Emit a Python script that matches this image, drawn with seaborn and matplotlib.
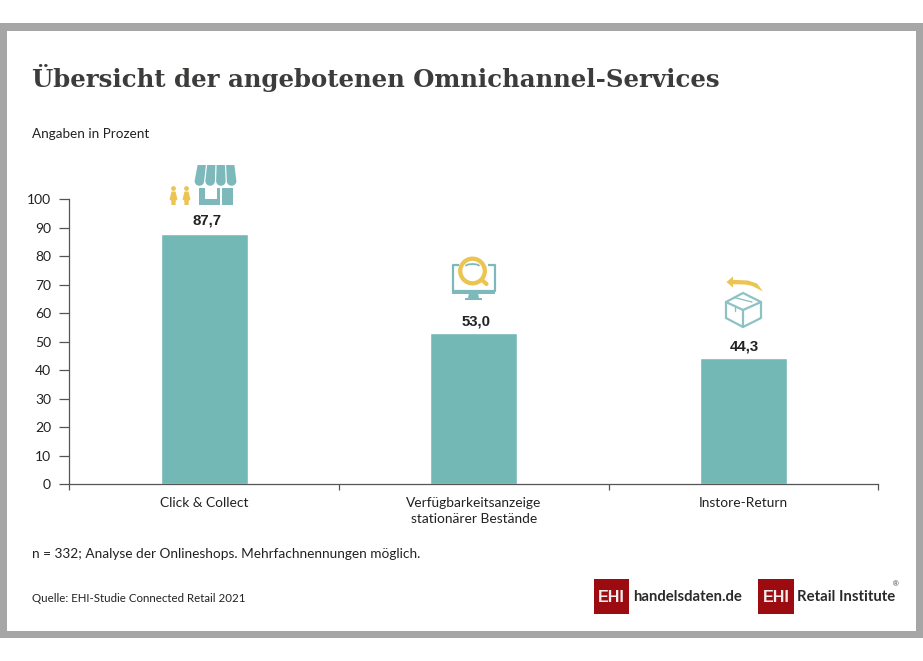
import matplotlib
matplotlib.use("Agg")
import matplotlib.pyplot as plt
from matplotlib.patches import Rectangle, Circle, Polygon, Wedge
import seaborn as sns
import pandas as pd

categories = ["Click & Collect", "Verfügbarkeitsanzeige\nstationärer Bestände", "Instore-Return"]
values = [87.7, 53.0, 44.3]
y_ticks = [0, 10, 20, 30, 40, 50, 60, 70, 80, 90, 100]
title = "Übersicht der angebotenen Omnichannel-Services"
subtitle = "Angaben in Prozent"
note = "n = 332; Analyse der Onlineshops. Mehrfachnennungen möglich."
source = "Quelle: EHI-Studie Connected Retail 2021"

TEAL = "#74B8B6"
ICON = "#7DB9BA"
YEL = "#EBC452"
DARK = "#3C3C3B"
RED = "#9B0B10"
GREY = "#A6A6A6"
BODY = "Lato"

sns.set_theme(style="white")
W, H = 923, 661
fig = plt.figure(figsize=(W / 100, H / 100), dpi=100, facecolor="white")

# pixel-based backdrop layer
bg = fig.add_axes([0, 0, 1, 1], zorder=0)
bg.set_xlim(0, W); bg.set_ylim(H, 0); bg.axis("off")
bg.add_patch(Rectangle((0, 23), W, 615, fc=GREY, lw=0))
bg.add_patch(Rectangle((7, 31), 909, 600, fc="white", lw=0))

bg.text(32, 77.5, title, family="DejaVu Serif", weight="bold", fontsize=17.6, color=DARK, va="center", ha="left")
bg.text(32, 133.5, subtitle, family=BODY, fontsize=9.75, color="#222222", va="center")
bg.text(32, 553.5, note, family=BODY, fontsize=9.85, color="#222222", va="center")
bg.text(32, 598, source, family=BODY, fontsize=8.3, color="#222222", va="center")

# main chart
df = pd.DataFrame({"cat": categories, "val": values})
ax = fig.add_axes([69.4 / W, (H - 484.4) / H, 809 / W, 285 / H], zorder=1)
ax.patch.set_visible(False)
sns.barplot(data=df, x="cat", y="val", color=TEAL, saturation=1, width=0.322, ax=ax)
ax.set_xlim(-0.5, 2.5); ax.set_ylim(0, 100)
ax.set_xlabel(""); ax.set_ylabel("")
ax.set_yticks(y_ticks)
ax.set_xticks([0.5, 1.5, 2.5, -0.5], minor=True)
ax.set_xticks([0, 1, 2], categories)
for s in ("top", "right"):
    ax.spines[s].set_visible(False)
for s in ("left", "bottom"):
    ax.spines[s].set_color("#555555"); ax.spines[s].set_linewidth(0.9)
ax.tick_params(axis="y", length=7.5, width=0.9, color="#555555", pad=5.8, labelsize=10, labelcolor="#222222", left=True)
ax.tick_params(axis="x", which="major", length=0, pad=9.2, labelsize=9.95, labelcolor="#222222")
ax.tick_params(axis="x", which="minor", length=4.5, width=0.9, color="#555555", bottom=True)
for lab in ax.get_xticklabels():
    lab.set_family(BODY); lab.set_linespacing(1.36)
for lab in ax.get_yticklabels():
    lab.set_family(BODY)
anns = ax.bar_label(ax.containers[0], labels=[f"{v:.1f}".replace(".", ",") for v in values],
                    padding=4.5, family="Liberation Sans", weight="bold", fontsize=10.8, color="#222222")
for ann, off in zip(anns, [(2.2, 4.8), (1.8, 3.4), (0.7, 3.2)]):
    ann.xyann = off

# icons (decoration, pixel coordinates)
ov = fig.add_axes([0, 0, 1, 1], zorder=2)
ov.set_xlim(0, W); ov.set_ylim(H, 0); ov.axis("off"); ov.patch.set_visible(False)

# store
edges_top = [197, 206.5, 216, 225.5, 235]
edges_bot = [194, 204.75, 215.5, 226.25, 237]
for i in range(4):
    ov.add_patch(Polygon([(edges_top[i] + .6, 165), (edges_top[i + 1] - .6, 165),
                          (edges_bot[i + 1] - .6, 181), (edges_bot[i] + .6, 181)], fc=ICON, lw=0))
    ov.add_patch(Wedge(((edges_bot[i] + edges_bot[i + 1]) / 2, 181), (edges_bot[i + 1] - edges_bot[i]) / 2 - .6,
                       0, 180, fc=ICON, lw=0))
ov.add_patch(Rectangle((198.5, 188), 6, 17, fc=ICON, lw=0))
ov.add_patch(Rectangle((204, 199), 14, 6, fc=ICON, lw=0))
ov.add_patch(Rectangle((217, 188), 3, 17, fc=ICON, lw=0))
ov.add_patch(Rectangle((222, 188), 11, 17, fc=ICON, lw=0))

# people
for cx in (173.5, 186.5):
    ov.add_patch(Circle((cx, 188.5), 2.4, fc=YEL, lw=0))
    ov.add_patch(Polygon([(cx - 2, 191.5), (cx + 2, 191.5), (cx + 4, 199.5), (cx + 2.3, 200.5), (cx + 2, 205),
                          (cx - 2, 205), (cx - 2.3, 200.5), (cx - 4, 199.5)], fc=YEL, lw=0))

# monitor + magnifier
ov.plot([459, 453, 453, 494.5, 494.5, 488], [265, 265, 291, 291, 265, 265], color=ICON, lw=1.6, solid_capstyle="butt")
ov.add_patch(Rectangle((452, 290), 43, 3.5, fc=ICON, lw=0))
ov.add_patch(Polygon([(469, 293), (478, 293), (479, 298), (468, 298)], fc=ICON, lw=0))
ov.add_patch(Rectangle((465, 297.5), 17, 2.5, fc=ICON, lw=0))
ov.plot([482.5, 486.5], [280.5, 284], color=YEL, lw=3.0, solid_capstyle="round")
ov.add_patch(Circle((472.5, 271), 12.3, fc="white", ec=YEL, lw=3.1))
ov.plot([466, 468, 472.5, 477, 479], [265.5, 264.5, 264, 264.5, 265.5], color=ICON, lw=1.3)

# box
bl = "#8DC2C3"
ov.add_patch(Polygon([(743, 293), (761, 302), (761, 318), (743, 327), (726, 318), (726, 302)],
                     closed=True, fc="white", ec=bl, lw=1.6))
ov.plot([726, 743, 761], [302, 310, 302], color=bl, lw=1.6)
ov.plot([743, 743], [310, 327], color=bl, lw=1.6)
ov.plot([734, 752], [297.5, 302], color=bl, lw=1.0)
ov.plot([735, 735], [306, 311], color=bl, lw=1.0)

# return arrow
ov.add_patch(Polygon([(733, 276.5), (726.5, 282), (733, 287.5), (733, 284.2), (745, 284.5), (752, 285.8), (763, 291.5),
                      (757, 283.5), (748, 280.5), (733, 279.8)], fc=YEL, lw=0))

# logos
for x0, w, txt, xt, fs in [(594, 35, "handelsdaten.de", 633, 10.7), (758, 36, "Retail Institute", 797, 10.7)]:
    ov.add_patch(Rectangle((x0, 579), w, 35, fc=RED, lw=0))
    ov.text(x0 + w / 2, 597, "EHI", color="#F5EDED", family="Liberation Sans", weight="bold", fontsize=11.5,
            ha="center", va="center")
    ov.text(xt, 597, txt, color="#2A2A2A", family=BODY, weight="bold", fontsize=fs, ha="left", va="center")
ov.text(896, 584.5, "®", color="#333333", family="Liberation Sans", fontsize=5.5, ha="center", va="center")

fig.savefig("out.png", dpi=100, facecolor="white")
